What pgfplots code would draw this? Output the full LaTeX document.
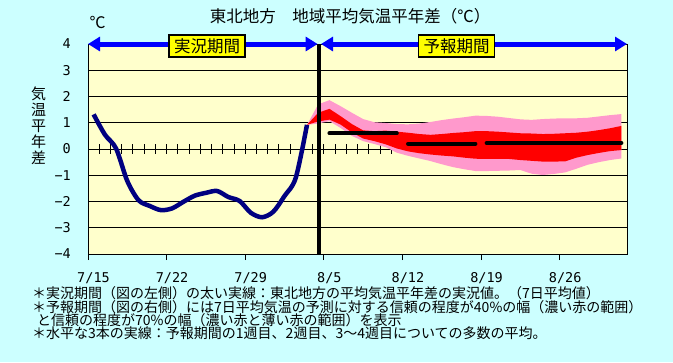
\documentclass[border=0pt]{standalone}
\usepackage{fontspec}
\setmainfont{Noto Sans CJK JP}
\newfontfamily\tickfont{DejaVu Sans Mono}
\usepackage{pgfplots}
\usepackage{pgfplotstable}
\pgfplotsset{compat=1.18}
\usetikzlibrary{arrows.meta}
\definecolor{bgcyan}{RGB}{204,255,255}
\definecolor{plotbg}{RGB}{255,255,204}
\definecolor{obsblue}{RGB}{0,0,128}
\definecolor{arrblue}{RGB}{0,0,255}
\definecolor{pinkband}{RGB}{255,153,204}
\definecolor{redband}{RGB}{255,0,0}
\definecolor{boxyellow}{RGB}{255,255,0}

% observed 7-day mean anomaly (day 0 = 7/15)
\pgfplotstableread{
d v
0.5 1.32
1.5 0.55
2.5 0.02
3.5 -1.22
4.5 -1.95
5.5 -2.17
6.5 -2.33
7.5 -2.26
8.5 -2.01
9.5 -1.78
10.5 -1.67
11.5 -1.60
12.5 -1.83
13.5 -1.98
14.5 -2.43
15.5 -2.60
16.5 -2.39
17.5 -1.79
18.5 -1.10
19.5 0.92
}\obs

% 70% band polygon (upper forward, lower backward)
\pgfplotstableread{
d v
19.5 0.92
20.5 1.70
21.5 1.86
22.5 1.63
23.5 1.38
24.5 1.14
25.5 1.02
26.5 0.99
27.5 0.95
28.5 0.94
29.5 0.97
30.5 1.03
31.5 1.10
32.5 1.16
33.5 1.21
34.5 1.27
35.5 1.26
36.5 1.23
37.5 1.18
38.5 1.13
39.5 1.11
40.5 1.14
41.5 1.16
42.5 1.17
43.5 1.17
44.5 1.19
45.5 1.24
46.5 1.29
47.5 1.33
47.5 -0.36
46.5 -0.42
45.5 -0.50
44.5 -0.60
43.5 -0.75
42.5 -0.89
41.5 -0.95
40.5 -0.99
39.5 -0.94
38.5 -0.80
37.5 -0.82
36.5 -0.83
35.5 -0.84
34.5 -0.84
33.5 -0.77
32.5 -0.69
31.5 -0.58
30.5 -0.46
29.5 -0.36
28.5 -0.26
27.5 -0.14
26.5 0.07
25.5 0.19
24.5 0.30
23.5 0.50
22.5 0.80
21.5 1.06
20.5 0.97
19.5 0.92
}\pinkpoly

% 40% band polygon
\pgfplotstableread{
d v
19.5 0.92
20.5 1.38
21.5 1.53
22.5 1.25
23.5 0.95
24.5 0.71
25.5 0.68
26.5 0.70
27.5 0.66
28.5 0.62
29.5 0.57
30.5 0.54
31.5 0.57
32.5 0.61
33.5 0.64
34.5 0.68
35.5 0.68
36.5 0.66
37.5 0.63
38.5 0.60
39.5 0.59
40.5 0.57
41.5 0.58
42.5 0.60
43.5 0.62
44.5 0.66
45.5 0.72
46.5 0.79
47.5 0.88
47.5 -0.04
46.5 -0.08
45.5 -0.15
44.5 -0.23
43.5 -0.33
42.5 -0.47
41.5 -0.48
40.5 -0.48
39.5 -0.45
38.5 -0.42
37.5 -0.38
36.5 -0.38
35.5 -0.38
34.5 -0.37
33.5 -0.33
32.5 -0.28
31.5 -0.25
30.5 -0.21
29.5 -0.16
28.5 -0.09
27.5 0.02
26.5 0.18
25.5 0.30
24.5 0.40
23.5 0.63
22.5 0.93
21.5 1.12
20.5 1.05
19.5 0.92
}\redpoly

\begin{document}
\begin{tikzpicture}[x=1bp,y=1bp]
\fill[bgcyan] (0,0) rectangle (673,362);
\begin{axis}[
  at={(88bp,108bp)}, anchor=south west,
  scale only axis, width=539bp, height=210bp,
  xmin=0, xmax=48, ymin=-4, ymax=4,
  axis background/.style={fill=plotbg},
  axis line style={black, line width=1bp},
  xtick={0,7,14,21,28,35,42},
  xticklabels={7/15,7/22,7/29,8/5,8/12,8/19,8/26},
  ytick={-4,-3,-2,-1,0,1,2,3,4},
  yticklabels={−4,−3,−2,−1,0,1,2,3,4},
  xtick pos=left, ytick pos=left,
  tick align=outside,
  major tick length=6bp,
  x tick style={black, line width=1bp},
  y tick style={draw=none},
  ymajorgrids, grid style={black, line width=0.9bp},
  ticklabel style={font=\tickfont\fontsize{13.5bp}{13.5bp}\selectfont},
  xticklabel style={anchor=north, inner sep=0pt, yshift=-12bp, xshift=5.5bp},
  yticklabel style={anchor=east, inner sep=0pt, xshift=-11bp},
  clip=false,
]
\pgfplotsinvokeforeach{1,...,47}{
  \draw[black, line width=0.9bp] (axis cs:#1,-0.19) -- (axis cs:#1,0.19);
}
\addplot[obsblue, line width=4.5bp, smooth, no marks] table[x=d,y=v] {\obs};
\addplot[fill=pinkband, draw=none, no marks] table[x=d,y=v] {\pinkpoly} -- cycle;
\addplot[fill=redband, draw=none, no marks] table[x=d,y=v] {\redpoly} -- cycle;
\addplot[black, line width=4bp, line cap=round, no marks] coordinates {(21.5,0.60) (27.5,0.60)};
\addplot[black, line width=4bp, line cap=round, no marks] coordinates {(28.5,0.20) (34.5,0.20)};
\addplot[black, line width=4bp, line cap=round, no marks] coordinates {(35.5,0.23) (47.5,0.23)};
\addplot[black, line width=4bp, no marks] coordinates {(20.6,-4) (20.6,4)};
\draw[arrblue, line width=5bp, {Triangle[length=12bp,width=14bp]}-{Triangle[length=12bp,width=14bp]}]
  (axis cs:0,4) -- (axis cs:20.45,4);
\draw[arrblue, line width=5bp, {Triangle[length=12bp,width=14bp]}-{Triangle[length=12bp,width=14bp]}]
  (axis cs:20.75,4) -- (axis cs:48,4);
\end{axis}
% period labels
\node[fill=boxyellow, draw=black, line width=1.2bp, minimum width=76bp, minimum height=22bp, inner sep=0pt,
  font=\fontsize{16.5bp}{16.5bp}\selectfont] at (207,316) {実況期間};
\node[fill=boxyellow, draw=black, line width=1.2bp, minimum width=76bp, minimum height=22bp, inner sep=0pt,
  font=\fontsize{16.5bp}{16.5bp}\selectfont] at (456.5,316) {予報期間};
% title and unit
\node[anchor=base, inner sep=0pt, font=\fontsize{16.5bp}{16.5bp}\selectfont] at (350,339.2) {東北地方　地域平均気温平年差（℃）};
\node[inner sep=0pt, font=\fontsize{16bp}{16bp}\selectfont] at (97.5,339.5) {℃};
% y label
\node[inner sep=0pt, align=center, font=\fontsize{15bp}{16bp}\selectfont] at (38.5,236.5) {気\\温\\平\\年\\差};
% notes
\begin{scope}[every node/.style={anchor=base west, inner sep=0pt, font=\fontsize{14bp}{14bp}\selectfont}]
\node at (32,63.7) {＊実況期間（図の左側）の太い実線：東北地方の平均気温平年差の実況値。（7日平均値）};
\node at (32,49.7) {＊予報期間（図の右側）には7日平均気温の予測に対する信頼の程度が40\%の幅（濃い赤の範囲）};
\node at (37,36.7) {と信頼の程度が70\%の幅（濃い赤と薄い赤の範囲）を表示};
\node at (32,23.7) {＊水平な3本の実線：予報期間の1週目、2週目、3～4週目についての多数の平均。};
\end{scope}
\end{tikzpicture}
\end{document}
